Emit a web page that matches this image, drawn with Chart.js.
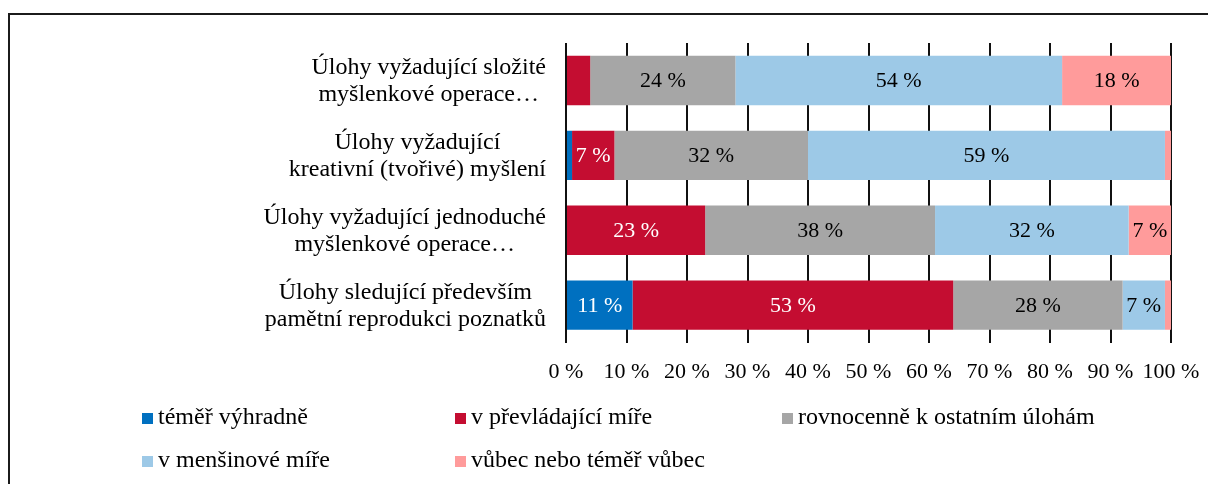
<!DOCTYPE html>
<html>
<head>
<meta charset="utf-8">
<script src="https://cdn.jsdelivr.net/npm/chart.js@4/dist/chart.umd.min.js"></script>
<style>
  body { margin:0; background:#fff; overflow:hidden; }
  .ramecek { position:absolute; left:8px; top:13px; width:1220px; height:490px; border:2px solid #1b1b1b; }
  canvas { display:block; }
</style>
</head>
<body>
<div class="ramecek"><canvas id="graf" width="1198" height="470"></canvas></div>
<script>
var kategorie = [
  ['Úlohy vyžadující složité', 'myšlenkové operace…'],
  ['Úlohy vyžadující', 'kreativní (tvořivé) myšlení'],
  ['Úlohy vyžadující jednoduché', 'myšlenkové operace…'],
  ['Úlohy sledující především', 'pamětní reprodukci poznatků']
]
var rady = ['téměř výhradně', 'v převládající míře', 'rovnocenně k ostatním úlohám', 'v menšinové míře', 'vůbec nebo téměř vůbec']
var vyhradne   = [0, 1, 0, 11]
var prevladajici = [4, 7, 23, 53]
var rovnocenne = [24, 32, 38, 28]
var mensinove  = [54, 59, 32, 7]
var vubec      = [18, 1, 7, 1]
var osaX = [0, 10, 20, 30, 40, 50, 60, 70, 80, 90, 100]

var barvy = ['#0070C0', '#C40D31', '#A6A6A6', '#9DC9E7', '#FF9B9B']
var barvyPopisku = ['#fff', '#fff', '#000', '#000', '#000']
var pismo = '"Liberation Serif", "Times New Roman", serif'

var popiskyHodnot = {
  id: 'popiskyHodnot',
  afterDatasetsDraw(chart) {
    var ctx = chart.ctx
    ctx.save()
    ctx.font = '22px ' + pismo
    ctx.textAlign = 'center'
    ctx.textBaseline = 'middle'
    chart.data.datasets.forEach((ds, i) => {
      chart.getDatasetMeta(i).data.forEach((bar, j) => {
        var v = ds.data[j]
        if (v < 5) return
        ctx.fillStyle = barvyPopisku[i]
        ctx.fillText(v + ' %', (bar.x + bar.base) / 2, bar.y + 1)
      })
    })
    ctx.restore()
  }
}

var popiskyOsyY = {
  id: 'popiskyOsyY',
  afterDraw(chart) {
    var ctx = chart.ctx
    var y = chart.scales.y
    var prava = chart.chartArea.left - 20
    ctx.save()
    ctx.font = '24px ' + pismo
    ctx.fillStyle = '#000'
    ctx.textAlign = 'center'
    ctx.textBaseline = 'middle'
    chart.data.labels.forEach((radky, i) => {
      var sirka = Math.max(...radky.map(r => ctx.measureText(r).width))
      var stred = y.getPixelForValue(i)
      radky.forEach((r, k) => {
        ctx.fillText(r, prava - sirka / 2, stred + 1 + (k - (radky.length - 1) / 2) * 27)
      })
    })
    ctx.restore()
  }
}

var legenda = {
  id: 'legenda',
  afterDraw(chart) {
    var ctx = chart.ctx
    var sloupce = [132, 445, 772]
    var radky = [403, 446]
    ctx.save()
    ctx.font = '24px ' + pismo
    ctx.textBaseline = 'middle'
    ctx.textAlign = 'left'
    chart.data.datasets.forEach((ds, i) => {
      var x = sloupce[i % 3]
      var yy = radky[Math.floor(i / 3)]
      ctx.fillStyle = ds.backgroundColor
      ctx.fillRect(x, yy - 5, 11, 11)
      ctx.fillStyle = '#000'
      ctx.fillText(ds.label, x + 16, yy)
    })
    ctx.restore()
  }
}

var hodnoty = [vyhradne, prevladajici, rovnocenne, mensinove, vubec]

var graf = new Chart(document.getElementById('graf'), {
  type: 'bar',
  data: {
    labels: kategorie,
    datasets: rady.map((r, i) => ({
      label: r,
      data: hodnoty[i],
      backgroundColor: barvy[i],
      barPercentage: 0.66,
      categoryPercentage: 1
    }))
  },
  options: {
    indexAxis: 'y',
    responsive: false,
    animation: false,
    layout: { padding: { left: 0, right: 37, top: 28, bottom: 84 } },
    scales: {
      x: {
        stacked: true,
        min: 0,
        max: 100,
        afterBuildTicks(scale) { scale.ticks = osaX.map(v => ({ value: v })) },
        afterFit(scale) { scale.paddingLeft = 0; scale.paddingRight = 0 },
        ticks: {
          color: '#000',
          padding: 16,
          font: { family: pismo, size: 22 },
          maxRotation: 0,
          callback: v => v + ' %'
        },
        grid: { color: '#111', lineWidth: 2, drawTicks: false },
        border: { display: false }
      },
      y: {
        stacked: true,
        ticks: { display: false },
        grid: { display: false },
        border: { display: false },
        afterFit(scale) { scale.width = 556 }
      }
    },
    plugins: {
      legend: { display: false },
      tooltip: { enabled: false }
    }
  },
  plugins: [popiskyHodnot, popiskyOsyY, legenda]
})
</script>
</body>
</html>
